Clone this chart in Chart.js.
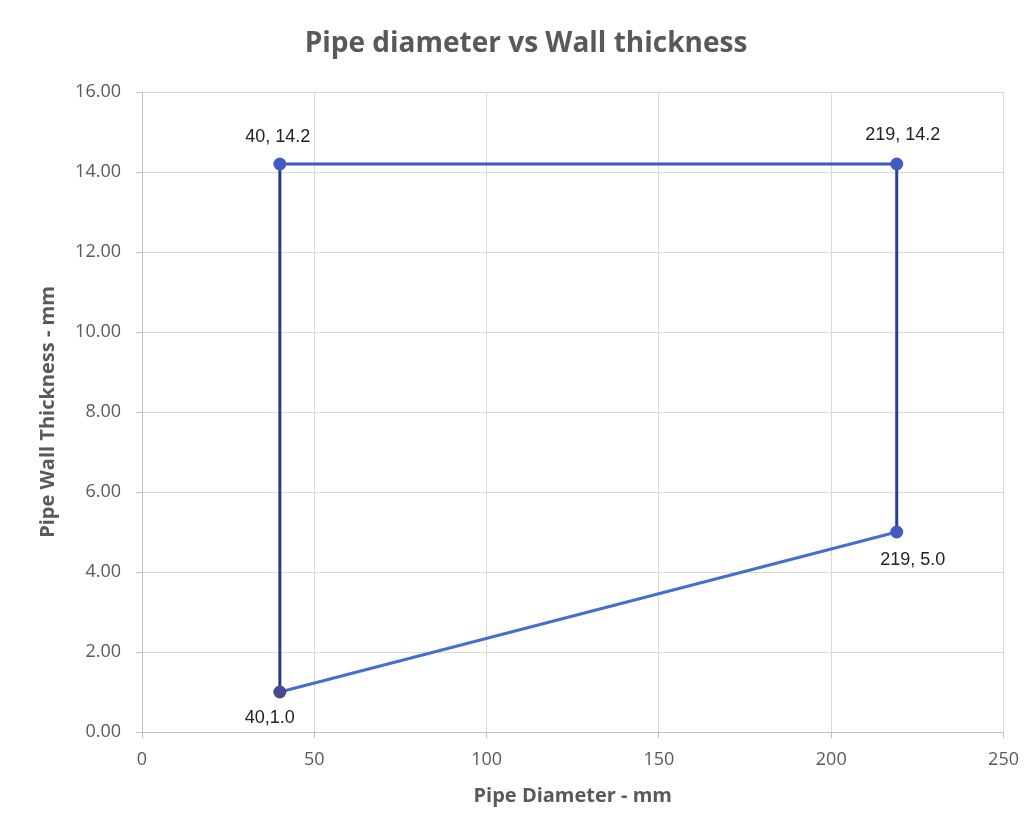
<!DOCTYPE html>
<html><head><meta charset="utf-8">
<script src="https://cdn.jsdelivr.net/npm/chart.js@4/dist/chart.umd.min.js"></script>
<style>html,body{margin:0;padding:0;background:#fff}#wrap{width:1030px;height:825px}</style>
</head><body><div id="wrap"><canvas id="c" width="1030" height="825"></canvas></div>
<script>
const diameters = [40, 219, 219, 40, 40];
const thickness = [14.2, 14.2, 5.0, 1.0, 14.2];
const pointLabels = ["40, 14.2", "219, 14.2", "219, 5.0", "40,1.0", null];
const segmentColors = ["#3b5bc2", "#2e3d94", "#4470cc", "#2c3784"];
const xTicks = [0, 50, 100, 150, 200, 250];
const yTicks = [0, 2, 4, 6, 8, 10, 12, 14, 16];
const chartTitle = 'Pipe diameter vs Wall thickness';

const labelOffsets = [[-2, -27], [6, -29], [16, 28], [-10, 26], [0, 0]];

const labelPlugin = {
  id: 'pointLabels',
  afterDatasetsDraw(chart) {
    const ctx = chart.ctx;
    const meta = chart.getDatasetMeta(0);
    ctx.save();
    ctx.font = '18px "Liberation Sans", Arial, sans-serif';
    ctx.fillStyle = '#222';
    ctx.textAlign = 'center';
    ctx.textBaseline = 'middle';
    meta.data.forEach((pt, i) => {
      const t = pointLabels[i];
      if (!t) return;
      ctx.fillText(t, pt.x + labelOffsets[i][0], pt.y + labelOffsets[i][1]);
    });
    ctx.fillStyle = '#595959';
    ctx.font = 'bold 28px "Open Sans", sans-serif';
    ctx.fillText(chartTitle, 526, 44);
    ctx.restore();
  }
};

new Chart(document.getElementById('c'), {
  type: 'scatter',
  data: {
    datasets: [{
      data: diameters.map((x, i) => ({x: x, y: thickness[i]})),
      showLine: true,
      borderWidth: 3,
      borderColor: '#3b5bc2',
      backgroundColor: '#3f5cc0',
      pointBackgroundColor: ['#3f5cc0', '#3f5cc0', '#3f5cc0', '#4a4890', 'rgba(0,0,0,0)'],
      pointBorderColor: ['#3f5cc0', '#3f5cc0', '#3f5cc0', '#4a4890', 'rgba(0,0,0,0)'],
      pointRadius: 5,
      segment: { borderColor: ctx => segmentColors[ctx.p0DataIndex] }
    }]
  },
  options: {
    responsive: false,
    animation: false,
    layout: { padding: { left: 0, right: 25, top: 92, bottom: 0 } },
    plugins: {
      legend: { display: false },
      tooltip: { enabled: false },
      title: { display: false }
    },
    scales: {
      x: {
        type: 'linear', min: 0, max: 250,
        afterBuildTicks: s => { s.ticks = xTicks.map(v => ({value: v})); },
        afterFit: s => { s.height = 93; },
        grid: { color: '#d9d9d9', lineWidth: 1, tickLength: 6, drawTicks: true, tickColor: '#bfbfbf' },
        border: { color: '#bfbfbf' },
        ticks: { color: '#595959', font: { family: '"Open Sans", sans-serif', size: 18 }, padding: 11 },
        title: { display: true, text: 'Pipe Diameter - mm', color: '#595959',
          font: { family: '"Open Sans", sans-serif', size: 20, weight: 'bold' }, padding: { top: 4, bottom: 17 } }
      },
      y: {
        type: 'linear', min: 0, max: 16,
        afterBuildTicks: s => { s.ticks = yTicks.map(v => ({value: v})); },
        afterFit: s => { s.width = 142; },
        grid: { color: '#d9d9d9', lineWidth: 1, tickLength: 6, drawTicks: true, tickColor: '#bfbfbf' },
        border: { color: '#bfbfbf' },
        ticks: { color: '#595959', font: { family: '"Open Sans", sans-serif', size: 18 }, padding: 15,
          callback: v => Number(v).toFixed(2) },
        title: { display: true, text: 'Pipe Wall Thickness - mm', color: '#595959',
          font: { family: '"Open Sans", sans-serif', size: 20, weight: 'bold' }, padding: { top: 36, bottom: 0 } }
      }
    }
  },
  plugins: [labelPlugin]
});
</script></body></html>
